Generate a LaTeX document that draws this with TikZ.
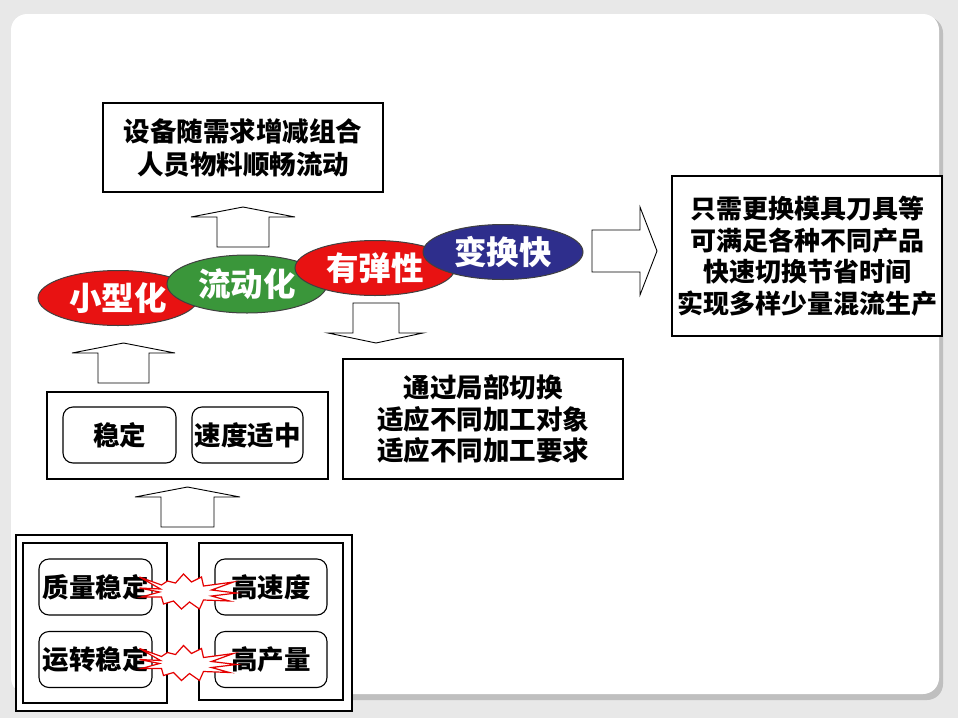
\documentclass[tikz,border=0pt]{standalone}
\usepackage{fontspec}
\setmainfont{Noto Sans CJK SC}
\usepackage{xcolor}
\usepackage{tikz}
\usetikzlibrary{shapes.geometric, calc}

\definecolor{hongse}{RGB}{232,18,18}
\definecolor{lvse}{RGB}{58,150,58}
\definecolor{lanse}{RGB}{46,46,140}

\tikzset{
  kuang/.style={draw=black, line width=1.1, fill=white, align=center,
    font=\bfseries\fontsize{26.5}{33}\selectfont, inner sep=0},
  yuanjiao/.style={kuang, rounded corners=10},
  tuoyuan/.style={ellipse, draw=black!75, line width=1, minimum width=160,
    minimum height=55, text=white, font=\bfseries\fontsize{32.5}{32}\selectfont, inner sep=0},
  jiantou/.style={draw=black, line width=0.9, fill=white, line join=miter},
  baozha/.pic={
    \draw[red!90!black, line width=1.2, fill=white, line join=miter]
      (-48,-14) -- (-26,-6) -- (-20,-10) -- (-12,-8) -- (-4,-17) -- (4,-9)
      -- (14,-14) -- (16,-5) -- (46,-9) -- (24,-1) -- (49,2) -- (24,5)
      -- (42,10) -- (16,9) -- (12,18) -- (2,11) -- (-6,18) -- (-14,10)
      -- (-24,13) -- (-26,6) -- (-46,6) -- (-28,1) -- (-48,-3) -- (-27,-2) -- cycle;
  },
}

\begin{document}
\begin{tikzpicture}[x=1pt, y=-1pt]
  \useasboundingbox (0,0) rectangle (958,718);
  % 背景
  \fill[gray!18] (0,0) rectangle (958,718);
  \fill[gray!50, rounded corners=16] (14,17) rectangle (943,700);
  \fill[white, rounded corners=16] (11,14) rectangle (939,694);

  % 四个椭圆
  \node[tuoyuan, fill=hongse] (xiaoxing) at (118,298) {小型化};
  \node[tuoyuan, fill=lvse, minimum height=58] (liudong) at (247,284) {流动化};
  \node[tuoyuan, fill=hongse] (tanxing) at (375,268) {有弹性};
  \node[tuoyuan, fill=lanse] (bianhuan) at (503,252) {变换快};

  % 文字框
  \node[kuang, minimum width=280, minimum height=89] (zuhe) at (243,147.5)
    {设备随需求增减组合\\人员物料顺畅流动};
  \node[kuang, minimum width=270, minimum height=160,
    font=\bfseries\fontsize{26}{31.5}\selectfont] (shengchan) at (807,256)
    {只需更换模具刀具等\\可满足各种不同产品\\快速切换节省时间\\实现多样少量混流生产};
  \node[kuang, minimum width=280, minimum height=120,
    font=\bfseries\fontsize{26.5}{31.5}\selectfont] (jubu) at (483,419)
    {通过局部切换\\适应不同加工对象\\适应不同加工要求};

  % 中间框
  \node[kuang, minimum width=281, minimum height=87] (zhongjian) at (187.5,435.5) {};
  \node[yuanjiao, minimum width=113, minimum height=56] (wending) at (119.5,435) {稳定};
  \node[yuanjiao, minimum width=111, minimum height=56] (shidu) at (247.5,435) {速度适中};

  % 底部框
  \node[kuang, minimum width=336, minimum height=176] (dikuang) at (184,623) {};
  \node[kuang, minimum width=144, minimum height=160] (zuokuang) at (95,623) {};
  \node[kuang, minimum width=144, minimum height=157] (youkuang) at (271,621.5) {};
  \node[yuanjiao, minimum width=113, minimum height=56] (zhiliang) at (95.5,587) {质量稳定};
  \node[yuanjiao, minimum width=112, minimum height=56] (gaosu) at (271,587) {高速度};
  \node[yuanjiao, minimum width=113, minimum height=56] (yunzhuan) at (95.5,659.5) {运转稳定};
  \node[yuanjiao, minimum width=112, minimum height=56] (gaochan) at (271,659.5) {高产量};

  % 矛盾
  \pic at ($(zhiliang.east)!0.5!(gaosu.west)+(4,4)$) {baozha};
  \pic at ($(yunzhuan.east)!0.5!(gaochan.west)+(4,3)$) {baozha};

  % 向上箭头
  \draw[jiantou] (217,247) -- (217,217) -- (191,217) -- (243,207) -- (295,217)
    -- (269,217) -- (269,247) -- cycle;
  \draw[jiantou] (98,383) -- (98,353) -- (72,353) -- (123.5,343) -- (175,353)
    -- (149,353) -- (149,383) -- cycle;
  \draw[jiantou] (161,527) -- (161,497) -- (135,497) -- (187.5,487) -- (240,497)
    -- (214,497) -- (214,527) -- cycle;
  % 向下箭头
  \draw[jiantou] (353,303) -- (353,333) -- (328,333) -- (376,343) -- (423,333)
    -- (399,333) -- (399,303) -- cycle;
  % 向右箭头
  \draw[jiantou] (592,230) -- (640,230) -- (640,207) -- (657,251) -- (640,295)
    -- (640,272) -- (592,272) -- cycle;
\end{tikzpicture}
\end{document}
